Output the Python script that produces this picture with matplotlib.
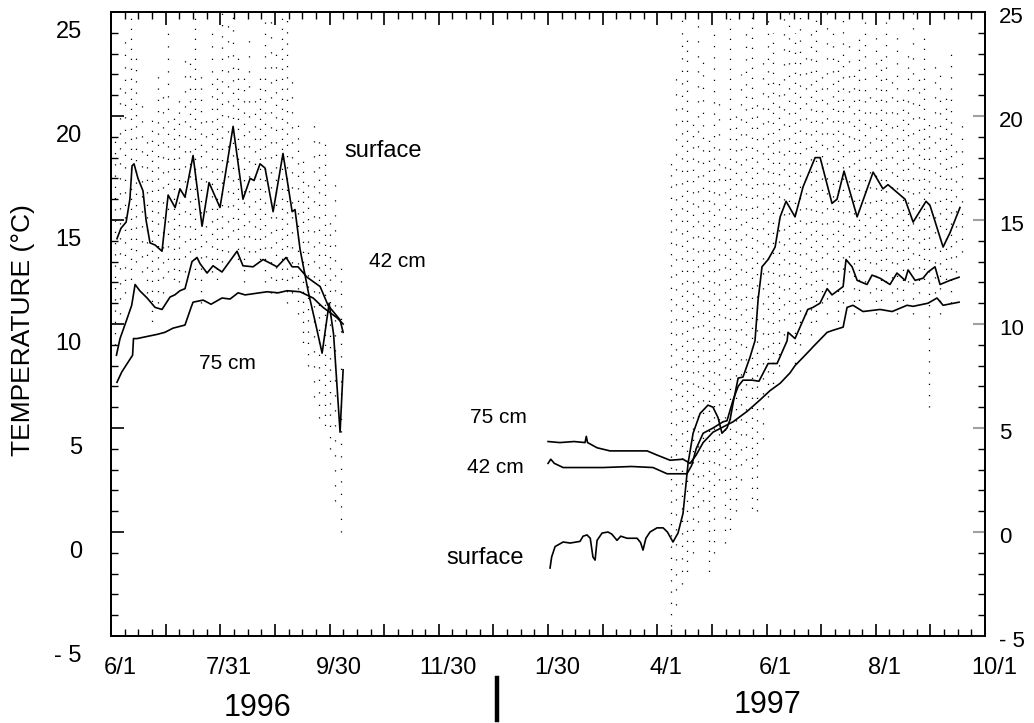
import matplotlib
matplotlib.use("Agg")
import matplotlib.pyplot as plt
from matplotlib.lines import Line2D
from matplotlib.transforms import ScaledTranslation
import numpy as np

plt.rcParams['font.family'] = ['Liberation Sans', 'DejaVu Sans']

# x values are days since 6/1/1996, axis runs to 10/1/1997 (day 487)
AXIS_DAYS = 487
date_labels = ["6/1", "7/31", "9/30", "11/30", "1/30", "4/1", "6/1", "8/1", "10/1"]

# ---- 1996 daily means ----
surf96_day = [3.3, 5.5, 8.4, 10.5, 11.7, 12.8, 15.0, 17.8, 19.5, 21.7, 24.5, 28.4, 31.8, 35.7,
              38.4, 41.2, 45.7, 50.7, 54.6, 60.7, 68.0, 73.5, 77.5, 79.7, 83.0, 85.8, 90.3,
              95.8, 100.9, 102.5, 105.3, 106.4, 110.0, 114.0, 117.6, 121.5, 124.0, 127.6, 129.3]
surf96_val = [14.1, 14.6, 14.9, 16.0, 17.6, 17.7, 17.0, 16.4, 15.0, 13.9, 13.8, 13.5, 16.2, 15.6,
              16.5, 16.1, 18.1, 14.7, 16.8, 15.6, 19.5, 16.0, 17.0, 16.9, 17.7, 17.5, 15.4,
              18.2, 15.4, 15.5, 13.6, 13.1, 11.5, 10.0, 8.6, 11.0, 9.5, 4.8, 7.8]

cm42_96_day = [3.0, 5.0, 8.7, 11.5, 13.4, 16.0, 20.1, 24.5, 28.4, 32.9, 35.5, 38.4, 41.2, 45.1,
               47.9, 49.6, 53.5, 56.8, 61.8, 70.2, 73.5, 79.1, 84.7, 92.5, 97.5, 100.9, 104.2,
               109.2, 116.5, 120.9, 127.6, 129.3]
cm42_96_val = [8.5, 9.3, 10.2, 10.9, 11.9, 11.6, 11.25, 10.8, 10.7, 11.3, 11.4, 11.6, 11.7, 13.0,
               13.2, 12.9, 12.45, 12.8, 12.5, 13.5, 12.8, 12.75, 13.1, 12.75, 13.2, 12.75, 12.75,
               12.25, 11.8, 10.9, 10.2, 9.6]

cm75_96_day = [3.3, 6.0, 9.0, 12.0, 12.5, 14.5, 20.0, 25.6, 30.0, 34.5, 41.2, 44.6, 45.7, 51.3,
               55.7, 61.8, 66.3, 70.8, 74.7, 86.9, 93.1, 98.1, 105.3, 112.6, 118.1, 125.9, 129.3]
cm75_96_val = [7.2, 7.7, 8.1, 8.5, 9.3, 9.3, 9.4, 9.5, 9.6, 9.8, 9.95, 10.8, 11.05, 11.15,
               10.95, 11.25, 11.2, 11.5, 11.4, 11.55, 11.5, 11.6, 11.55, 11.25, 10.8, 10.3, 10.0]

# ---- 1997 daily means ----
surf97_day = [244.6, 245.5, 247.4, 251.9, 255.8, 261.3, 263.0, 265.2, 267.0, 268.5, 269.7, 270.8,
              273.6, 276.9, 279.0, 281.9, 284.0, 287.5, 293.1, 295.0, 296.4, 298.0, 300.3, 304.2,
              307.6, 310.0, 313.1, 315.9, 318.7, 321.5, 324.3, 328.2, 332.6, 335.4, 338.2, 340.4,
              343.2, 344.9, 346.6, 349.4, 352.1, 356.0, 358.8, 360.5, 362.7, 366.1, 370.0, 372.8,
              376.1, 381.1, 385.6, 392.3, 395.1, 401.7, 404.5, 408.4, 415.7, 424.6, 430.1, 432.9,
              442.4, 446.9, 454.1, 456.3, 463.6, 467.5, 473.0]
surf97_val = [-1.73, -1.2, -0.7, -0.48, -0.53, -0.45, -0.2, -0.14, -0.3, -1.2, -1.35, -0.4,
              -0.05, 0.0, -0.1, -0.4, -0.2, -0.3, -0.3, -0.5, -0.87, -0.3, 0.0, 0.2,
              0.2, 0.0, -0.48, -0.05, 0.9, 3.3, 4.75, 5.7, 6.1, 6.0, 5.5, 4.75,
              5.0, 5.4, 6.2, 7.4, 7.45, 8.4, 9.2, 11.15, 12.75, 13.1, 13.7, 15.15,
              15.9, 15.15, 16.6, 18.0, 18.0, 15.8, 16.0, 17.35, 15.15, 17.3, 16.5, 16.7,
              16.0, 14.9, 15.9, 15.7, 13.7, 14.4, 15.6]

cm42_97_day = [243.5, 245.0, 247.0, 251.9, 274.1, 290.0, 302.0, 309.8, 320.9, 323.5, 326.0, 329.9,
               335.4, 341.0, 343.2, 346.6, 349.4, 352.1, 357.2, 361.0, 366.1, 371.1, 376.7, 377.2,
               381.1, 388.2, 391.1, 395.0, 399.0, 401.7, 407.9, 409.5, 412.9, 415.7, 421.2, 424.0,
               428.5, 434.0, 437.9, 442.4, 444.1, 448.0, 452.4, 455.2, 459.1, 461.9, 467.5, 472.5]
cm42_97_val = [3.3, 3.5, 3.3, 3.1, 3.1, 3.15, 3.1, 2.8, 2.8, 3.2, 4.0, 4.75,
               5.0, 5.3, 5.35, 6.35, 7.0, 7.3, 7.3, 7.25, 8.1, 8.1, 9.2, 9.6,
               9.3, 10.7, 10.8, 11.0, 11.7, 11.4, 11.8, 13.1, 12.75, 12.1, 11.9, 12.35,
               12.2, 11.9, 12.45, 12.1, 12.6, 12.1, 12.2, 12.5, 12.75, 11.9, 12.1, 12.25]

cm75_97_day = [243.5, 250.0, 258.0, 264.1, 264.8, 265.5, 270.8, 278.0, 290.0, 298.7, 304.2, 311.5,
               318.7, 322.6, 326.0, 329.9, 335.4, 346.6, 354.4, 361.6, 367.2, 372.8, 378.3, 381.1,
               385.6, 389.5, 391.1, 399.0, 402.3, 407.9, 410.1, 413.4, 419.0, 428.5, 435.2, 443.5,
               446.9, 455.2, 460.2, 463.6, 472.5]
cm75_97_val = [4.35, 4.3, 4.35, 4.3, 4.6, 4.3, 4.05, 3.9, 3.9, 3.9, 3.7, 3.45,
               3.5, 3.3, 3.7, 4.3, 4.8, 5.3, 5.8, 6.35, 6.8, 7.15, 7.65, 8.0,
               8.4, 8.75, 8.9, 9.6, 9.7, 9.85, 10.8, 10.9, 10.6, 10.7, 10.6, 10.9,
               10.85, 11.0, 11.25, 10.9, 11.05]

# ---- spread of the hourly surface readings (low / high per column) ----
spread96_day = [2, 5, 8, 11, 14, 17, 20, 23, 26, 29, 32, 35, 38, 41, 44, 47, 50, 53, 56, 59, 62,
                65, 68, 71, 74, 77, 80, 83, 86, 89, 92, 95, 98, 101, 104, 107, 110, 113, 116,
                119, 122, 125, 128]
spread96_lo = [9, 10, 11, 12, 13, 12, 11, 10, 11, 11, 12, 12, 12, 12, 13, 12, 11, 12, 12, 12, 13,
               13, 14, 13, 12, 13, 13, 13, 12, 11, 11, 12, 11, 11, 10, 9, 8, 6, 5,
               5, 4, 1, -0.5]
spread96_hi = [19, 22, 24, 25, 23, 21, 19, 20, 22, 21, 24, 20, 21, 23, 23, 25, 22, 20, 24, 22, 25,
               26, 26, 23, 22, 24, 21, 22, 25, 26, 23, 25, 26, 22, 20, 18, 17, 20, 19,
               19, 15, 17, 13]

spread97_day = [312, 315, 318, 321, 324, 327, 330, 333, 336, 339, 342, 345, 348, 351, 354, 357,
                360, 363, 366, 369, 372, 375, 378, 381, 384, 387, 390, 393, 396, 399, 402, 405,
                408, 411, 414, 417, 420, 423, 426, 429, 432, 435, 438, 441, 444, 447, 450, 453,
                456, 459, 462, 465, 468, 471, 474]
spread97_lo = [-4.5, -4, -3, -2, -1, 0, 1, -2, -1, 2, -1, 0, 1, 2, 3, 1, 1, 4, 6, 7, 8, 9, 10, 8,
               9, 10, 9, 10, 11, 10, 12, 10, 11, 12, 10, 11, 12, 11, 10, 11, 12, 11, 10, 11,
               12, 10, 11, 12, 6, 11, 10, 12, 11, 12, 13]
spread97_hi = [18, 22, 25, 24, 20, 25, 23, 19, 24, 21, 18, 25, 20, 22, 24, 25, 21, 23, 25, 24,
               22, 25, 26, 24, 25, 23, 24, 26, 22, 25, 24, 23, 25, 24, 22, 24, 25, 21, 24, 23,
               25, 22, 24, 21, 23, 25, 22, 24, 20, 23, 22, 21, 23, 19, 20]

fig = plt.figure(figsize=(10.34, 7.23), dpi=100)
ax = fig.add_axes([0.1074, 0.1203, 0.8453, 0.8631])

# dotted columns, phases staggered so the dots do not line up in rows
dot_styles = [(0, (1, 8)), (4, (1, 11)), (2, (1, 9)), (6, (1, 7))]
ax.vlines(spread96_day, spread96_lo, spread96_hi, colors="black", linewidth=0.9, linestyles=dot_styles)
ax.vlines(spread97_day, spread97_lo, spread97_hi, colors="black", linewidth=0.9, linestyles=dot_styles)

for d, v in [(surf96_day, surf96_val), (cm42_96_day, cm42_96_val), (cm75_96_day, cm75_96_val),
             (surf97_day, surf97_val), (cm42_97_day, cm42_97_val), (cm75_97_day, cm75_97_val)]:
    ax.plot(d, v, color="black", linewidth=1.2)

ax.set_xlim(0, AXIS_DAYS)
ax.set_ylim(-5, 25)

# x ticks: 16 month-ish steps, labelled every other one
major_x = np.linspace(0, AXIS_DAYS, 17)
x_labels = []
for i in range(17):
    x_labels.append(date_labels[i // 2] if i % 2 == 0 else "")
ax.set_xticks(major_x, x_labels)
ax.set_xticks(np.linspace(0, AXIS_DAYS, 65), minor=True)

y_major = [-5, 0, 5, 10, 15, 20, 25]
y_text = ["- 5", "0", "5", "10", "15", "20", "25"]
ax.set_yticks(y_major, y_text)
ax.set_yticks(np.arange(-5, 26, 1), minor=True)

ax.tick_params(axis="both", which="both", direction="in", top=True, labelsize=17, color="black")
ax.tick_params(axis="both", which="major", length=9, width=1.2)
ax.tick_params(axis="both", which="minor", length=5, width=1.0)
ax.tick_params(axis="x", which="major", pad=15)
ax.tick_params(axis="y", which="major", pad=21)

ax2 = ax.twinx()
ax2.set_ylim(-5, 25)
ax2.set_yticks(y_major, y_text)
ax2.set_yticks(np.arange(-5, 26, 1), minor=True)
ax2.tick_params(axis="y", which="both", direction="in", labelsize=16)
ax2.tick_params(axis="y", which="major", length=9, width=1.5, color="#a0a0a0", pad=10)
ax2.tick_params(axis="y", which="minor", length=5, width=1.0, color="black")

for a in (ax, ax2):
    for s in a.spines.values():
        s.set_linewidth(1.3)

# the original labels sit a little off their ticks
for lab in ax.get_yticklabels():
    lab.set_transform(lab.get_transform() + ScaledTranslation(0, -0.17, fig.dpi_scale_trans))
for lab in ax.get_xticklabels():
    lab.set_transform(lab.get_transform() + ScaledTranslation(0.09, 0, fig.dpi_scale_trans))
for lab in ax2.get_yticklabels():
    lab.set_transform(lab.get_transform() + ScaledTranslation(0, -0.03, fig.dpi_scale_trans))

ax.set_ylabel("TEMPERATURE (\u00b0C)", fontsize=19)
ax.yaxis.set_label_coords(-0.087, 0.49)

# curve labels
ax.text(151.6, 18.3, "surface", fontsize=17, ha="center", va="center")
ax.text(159.4, 13.0, "42 cm", fontsize=15, ha="center", va="center")
ax.text(64.6, 8.1, "75 cm", fontsize=15, ha="center", va="center")
ax.text(215.6, 5.5, "75 cm", fontsize=15, ha="center", va="center")
ax.text(214.0, 3.1, "42 cm", fontsize=15, ha="center", va="center")
ax.text(208.4, -1.25, "surface", fontsize=17, ha="center", va="center")

# year captions and separator bar
fig.text(257 / 1034, 1 - 708 / 723, "1996", fontsize=22, ha="center", va="center")
fig.text(767 / 1034, 1 - 705 / 723, "1997", fontsize=22, ha="center", va="center")
fig.add_artist(Line2D([497 / 1034, 497 / 1034], [1 - 678 / 723, 1 - 720 / 723],
                      color="black", linewidth=3.2, transform=fig.transFigure))

fig.savefig("out.png", dpi=100)
